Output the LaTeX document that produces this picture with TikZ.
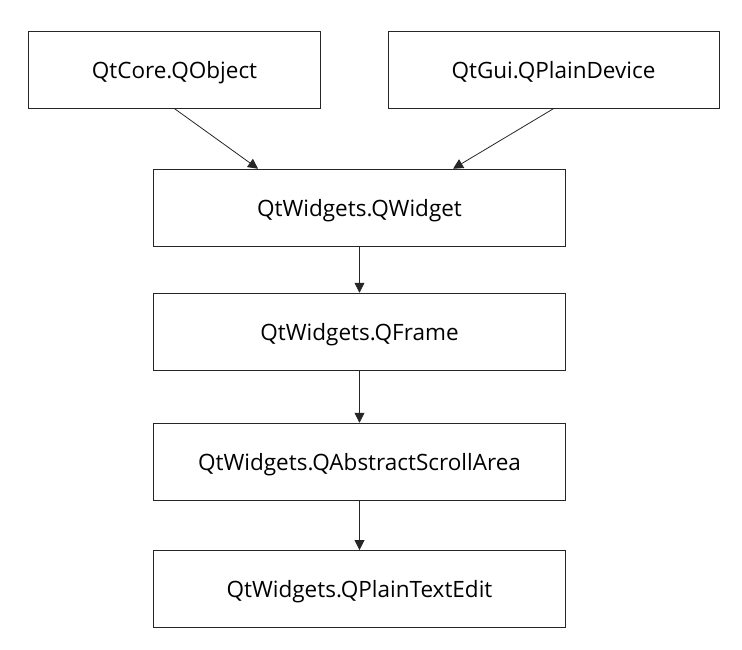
\documentclass[tikz,border=0pt]{standalone}
\usepackage{fontspec}
\setmainfont{Open Sans}
\usetikzlibrary{arrows.meta,calc}
\begin{document}
\begin{tikzpicture}[x=1pt,y=-1pt,
  cls/.style={draw=black!85,line width=0.9pt,minimum height=77pt,inner sep=0pt,text depth=0pt,font=\fontsize{22.5}{26}\selectfont,text=black},
  inh/.style={draw=black!85,line width=0.8pt,-{Triangle[length=10pt,width=10pt]}}]
\path[use as bounding box] (0,0) rectangle (742,650);
\node[cls,minimum width=292pt] (obj) at (174.5,69.7) {QtCore.QObject};
\node[cls,minimum width=331pt] (dev) at (553.5,69.7) {QtGui.QPlainDevice};
\node[cls,minimum width=412pt] (wid) at (359.5,207.7) {QtWidgets.QWidget};
\node[cls,minimum width=412pt] (frm) at (359.5,331.7) {QtWidgets.QFrame};
\node[cls,minimum width=412pt] (asa) at (359.5,461.7) {QtWidgets.QAbstractScrollArea};
\node[cls,minimum width=412pt] (pte) at (359.5,589) {QtWidgets.QPlainTextEdit};
\coordinate (wl) at ($(wid.north west)+(105,0)$);
\coordinate (wr) at ($(wid.north west)+(300,0)$);
\draw[inh] (obj.south) -- (wl);
\draw[inh] (dev.south) -- (wr);
\draw[inh] (wid) -- (frm);
\draw[inh] (frm) -- (asa);
\draw[inh] (asa) -- (pte);
\end{tikzpicture}
\end{document}
